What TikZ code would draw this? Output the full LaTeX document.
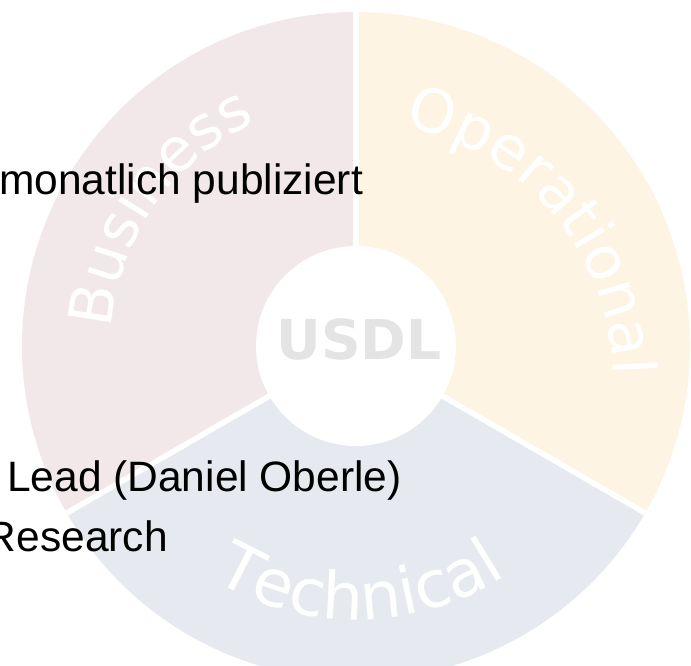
\documentclass[tikz,border=0pt]{standalone}
\usepackage{fontspec}
\setmainfont{Liberation Sans}
\newfontfamily\labelfont{DejaVu Sans}
\usetikzlibrary{decorations.text}

\definecolor{businessrose}{HTML}{F2E7E9}
\definecolor{operationalcream}{HTML}{FDF4E3}
\definecolor{technicalgrey}{HTML}{E6EAF0}
\definecolor{hubgrey}{HTML}{E4E4E4}

\newcommand{\CurveFont}{\labelfont\fontsize{60}{64}\selectfont}
\newcommand{\CurveFontWide}{\labelfont\fontsize{65}{68}\selectfont}

\begin{document}
\begin{tikzpicture}
[
x=1pt, y=1pt,
BusinessPart/.style={fill=businessrose},
OperationalPart/.style={fill=operationalcream},
TechnicalPart/.style={fill=technicalgrey},
Gap/.style={draw=white, line width=5.5pt},
Hub/.style={circle, fill=white, minimum size=200pt, inner sep=0pt},
HubText/.style={inner sep=0pt, text=hubgrey, font=\labelfont\bfseries\fontsize{55}{58}\selectfont},
SlideText/.style={inner sep=0pt, text=black, font=\fontsize{42.5}{50}\selectfont},
CurvedLabel/.style={decorate, decoration={text along path, text align=center, text color=white, text={#1}}},
]

\useasboundingbox (0,0) rectangle (691,666);
\clip (0,0) rectangle (691,666);

\coordinate (mid) at (356,320);
\coordinate (opmid) at (355,286);

\fill[BusinessPart] (mid) -- ++(90:334) arc (90:210:334) -- cycle;
\fill[OperationalPart] (mid) -- ++(-30:334) arc (-30:90:334) -- cycle;
\fill[TechnicalPart] (mid) -- ++(210:334) arc (210:330:334) -- cycle;

\foreach \a in {90,210,330}
  \draw[Gap] (mid) -- ++(\a:340);

\node[Hub] (hub) at (mid) {};
\node[HubText] (usdl) at (359,327) {USDL};

\path[CurvedLabel={|\CurveFont|Business}] ([shift={(202:245)}]mid) arc (202:88:245);
\path[CurvedLabel={|\CurveFont|Operational}] ([shift={(96:258)}]opmid) arc (96:-16:258);
\path[CurvedLabel={|\CurveFontWide|Technical}] ([shift={(225:274)}]mid) arc (225:317:274);

%\draw[red] (0,0) rectangle (691,666);
\node[SlideText, anchor=base west] (month) at (-1,471) {monatlich publiziert};
\node[SlideText, anchor=base west] (lead) at (7,174) {Lead (Daniel Oberle)};
\node[SlideText, anchor=base east] (research) at (168,114) {Research};

\end{tikzpicture}
\end{document}
